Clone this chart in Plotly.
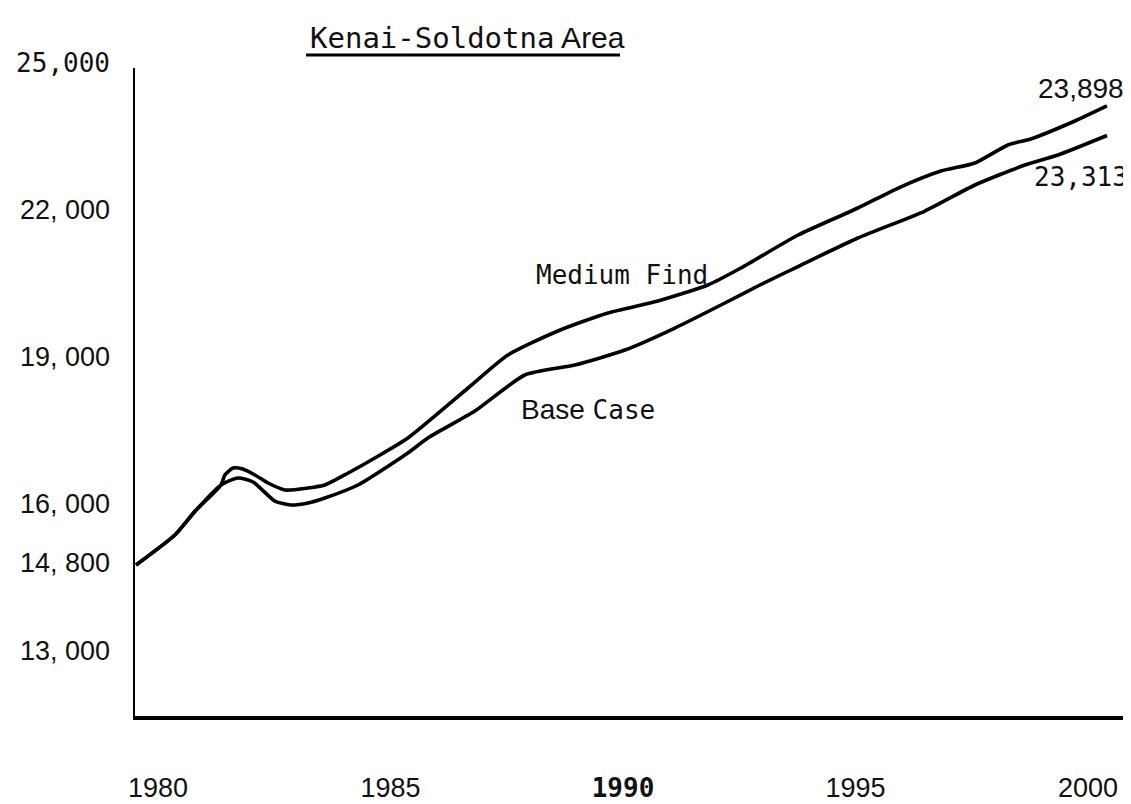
import plotly.graph_objects as go

# ---------------- data ----------------
medium_years = [1980.00, 1980.80, 1981.22, 1981.75, 1981.83, 1982.00, 1982.20, 1982.45,
                1982.72, 1983.07, 1983.54, 1983.89, 1984.37, 1984.92, 1985.60, 1986.84,
                1987.66, 1988.69, 1989.72, 1990.75, 1991.78, 1992.46, 1993.64, 1994.87,
                1995.70, 1996.58, 1997.28, 1997.96, 1998.43, 1999.34, 2000.00]
medium_find = [14800, 15395, 15870, 16386, 16584, 16723, 16703, 16584,
               16425, 16287, 16326, 16386, 16623, 16921, 17317, 18308,
               18962, 19438, 19795, 20032, 20350, 20687, 21341, 21876,
               22272, 22609, 22768, 23125, 23244, 23600, 23898]

base_years = [1980.00, 1980.80, 1981.22, 1981.75, 1982.10, 1982.41, 1982.86, 1983.19,
              1983.54, 1983.89, 1984.57, 1985.60, 1986.01, 1986.98, 1988.01, 1989.04,
              1990.07, 1991.10, 1992.13, 1992.81, 1993.70, 1994.87, 1996.25, 1997.28,
              1998.31, 1998.99, 2000.00]
base_case = [14800, 15395, 15870, 16386, 16524, 16445, 16068, 15989,
             16029, 16128, 16386, 17020, 17317, 17852, 18566, 18764,
             19061, 19497, 19993, 20330, 20746, 21281, 21816, 22332,
             22728, 22926, 23313]

y_tick_values = [25000, 22000, 19000, 16000, 14800, 13000]
y_tick_labels = ["25,000", "22, 000", "19, 000", "16, 000", "14, 800", "13, 000"]
x_tick_values = [1980, 1985, 1990, 1995, 2000]
x_tick_labels = ["1980", "1985", "1990", "1995", "2000"]

title_main = "Kenai-Soldotna"
title_rest = "Area"

# ---------------- styling ----------------
MONO = "DejaVu Sans Mono"
SANS = "Liberation Sans, Arial, sans-serif"


def mono(t, size=26, bold=False):
    s = f"<span style='font-family:{MONO};font-size:{size}px'>{t}</span>"
    return f"<b>{s}</b>" if bold else s


y_ticktext = [mono(t, 26) if t == "25,000" else t for t in y_tick_labels]
x_ticktext = [mono(t, 26, bold=True) if t == "1990" else t for t in x_tick_labels]

# plot area in pixels
TOP, BOTTOM, LEFT, RIGHT = 50, 708, 127, 1131
AXIS_TOP = 60

fig = go.Figure()
fig.add_trace(go.Scatter(x=medium_years, y=medium_find, mode="lines",
                         line=dict(color="black", width=3.6, shape="spline", smoothing=0.6),
                         name="Medium Find", hoverinfo="x+y"))
fig.add_trace(go.Scatter(x=base_years, y=base_case, mode="lines",
                         line=dict(color="black", width=3.6, shape="spline", smoothing=0.6),
                         name="Base Case", hoverinfo="x+y"))

fig.update_layout(
    width=1131, height=804,
    margin=dict(l=LEFT, r=1131 - RIGHT, t=TOP, b=804 - BOTTOM, pad=0),
    paper_bgcolor="white", plot_bgcolor="rgba(0,0,0,0)",
    showlegend=False,
    font=dict(family=SANS, size=27, color="#111"),
    xaxis=dict(range=[1979.979, 2000.66], domain=[0, 1], anchor="y",
               showline=True, linewidth=4, linecolor="black",
               showgrid=False, zeroline=False, ticks="", showticklabels=False),
    yaxis=dict(range=[11807, 24651], domain=[0, (BOTTOM - AXIS_TOP) / (BOTTOM - TOP)],
               anchor="x", showline=True, linewidth=2, linecolor="black",
               showgrid=False, zeroline=False, ticks="", showticklabels=False),
    # label axes carrying the typed scale labels of the original sheet
    xaxis2=dict(domain=[0, 1], anchor="y2", side="bottom", range=[1979.505, 2001.097],
                tickvals=x_tick_values, ticktext=x_ticktext, showline=False,
                showgrid=False, zeroline=False, ticks="", ticklabelstandoff=53,
                tickfont=dict(family=SANS, size=27, color="#111")),
    yaxis2=dict(domain=[0, 1], anchor="x2", side="left", range=[11673, 25102],
                tickvals=y_tick_values, ticktext=y_ticktext, showline=False,
                showgrid=False, zeroline=False, ticks="", ticklabelstandoff=24,
                tickfont=dict(family=SANS, size=27, color="#111")),
)

# an invisible trace so the label axes are drawn
fig.add_trace(go.Scatter(x=[1990], y=[20000], xaxis="x2", yaxis="y2", mode="markers",
                         marker=dict(opacity=0), hoverinfo="skip", showlegend=False))


def px_x(px):
    return (px - LEFT) / (RIGHT - LEFT)


def px_y(py):
    return (BOTTOM - py) / (BOTTOM - TOP)


# title
fig.add_annotation(xref="paper", yref="paper", x=px_x(300), y=px_y(30),
                   xanchor="left", yanchor="middle", showarrow=False,
                   text=mono(title_main, 29) + " " + title_rest,
                   font=dict(family=SANS, size=30, color="#111"))
fig.add_shape(type="line", xref="paper", yref="paper",
              x0=px_x(298), x1=px_x(612), y0=px_y(47), y1=px_y(47),
              line=dict(color="black", width=3))

# series labels
fig.add_annotation(xref="paper", yref="paper", x=px_x(526), y=px_y(267),
                   xanchor="left", yanchor="middle", showarrow=False,
                   text=mono("Medium Find", 26), font=dict(color="#111"))
fig.add_annotation(xref="paper", yref="paper", x=px_x(511), y=px_y(401),
                   xanchor="left", yanchor="middle", showarrow=False,
                   text="Base " + mono("Case", 26),
                   font=dict(family=SANS, size=28, color="#111"))

# end values
fig.add_annotation(x=medium_years[-1], y=medium_find[-1], xref="x", yref="y",
                   xanchor="right", yanchor="middle", xshift=19, yshift=17,
                   showarrow=False, text=f"{medium_find[-1]:,}",
                   font=dict(family=SANS, size=28, color="#111"))
fig.add_annotation(x=base_years[-1], y=base_case[-1], xref="x", yref="y",
                   xanchor="right", yanchor="middle", xshift=23, yshift=-41,
                   showarrow=False, text=mono(f"{base_case[-1]:,}", 26),
                   font=dict(color="#111"))

fig.write_html("out.html")
